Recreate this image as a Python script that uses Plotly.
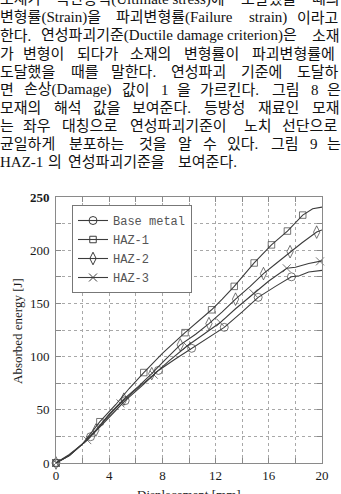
import plotly.graph_objects as go

# ---------------- data ----------------
disp_base = [0, 1, 2, 2.6, 4, 5.2, 6.5, 7.7, 9, 10.2, 11.4, 12.65, 14, 15.2, 16.5, 17.7, 18.3, 19, 20]
energy_base = [0, 8, 18, 24.7, 43, 58.6, 73, 87, 98, 107.8, 117, 127.5, 142, 155.7, 166, 175, 176, 179.5, 181]
mark_base = [0, 3, 5, 7, 9, 11, 13, 15]

disp_haz1 = [0, 1, 2, 3.3, 4.5, 5.5, 6.6, 8, 9.7, 10.7, 11.7, 12.5, 13.4, 14.9, 15.6, 16.2, 17.4, 18.55, 19.3, 20]
energy_haz1 = [0, 7, 18, 38.8, 55, 70, 85, 103, 122.5, 133, 144, 154, 166, 188, 197, 205, 218, 233, 239, 240.5]
mark_haz1 = [0, 3, 6, 8, 10, 12, 13, 15, 16, 17]

disp_haz2 = [0, 1, 2, 3.0, 4, 5.1, 6.2, 7.2, 8.2, 9.34, 10.5, 11.5, 12.5, 13.5, 14.6, 15.6, 16.5, 17.1, 17.6, 18.5, 19.6, 20]
energy_haz2 = [0, 7, 18, 31, 46, 60, 72, 84, 97, 111, 121, 131, 142, 154, 166, 178, 187, 193, 198.6, 207, 217, 219]
mark_haz2 = [0, 3, 5, 7, 9, 11, 13, 15, 18, 20]

disp_haz3 = [0, 1, 2, 2.35, 4, 4.85, 6, 7.35, 8.5, 9.85, 11, 12.35, 13.5, 14.85, 16, 17.35, 18, 19, 19.85, 20]
energy_haz3 = [0, 7, 18, 21.5, 45, 56, 69, 83, 96, 110, 120, 132, 145, 159.5, 171, 183, 184, 187.5, 189.5, 190]
mark_haz3 = [0, 3, 5, 7, 9, 11, 13, 15, 18]

series_names = ["Base metal", "HAZ-1", "HAZ-2", "HAZ-3"]
x_tick_vals = [0, 4, 8, 12, 16, 20]
x_tick_text = ["0", "4", "8", "12", "16", "20"]
y_tick_vals = [0, 50, 100, 150, 200, 250]
y_tick_text = ["0", "50", "100", "150", "200", "<b>250</b>"]

x_title = "Displacement [mm]"
y_title = "Absorbed energy [J]"

paragraph = [
    ["소재가", "극한응력(Ultimate stress)에", "도달했을", "때의"],
    ["변형률(Strain)을", "파괴변형률(Failure", "strain)", "이라고"],
    ["한다.", "연성파괴기준(Ductile damage criterion)은", "소재"],
    ["가", "변형이", "되다가", "소재의", "변형률이", "파괴변형률에"],
    ["도달했을", "때를", "말한다.", "연성파괴", "기준에", "도달하"],
    ["면", "손상(Damage)", "값이", "1", "을", "가르킨다.", "그림", "8", "은"],
    ["모재의", "해석", "값을", "보여준다.", "등방성", "재료인", "모재"],
    ["는", "좌우", "대칭으로", "연성파괴기준이", "노치", "선단으로"],
    ["균일하게", "분포하는", "것을", "알", "수", "있다.", "그림", "9", "는"],
    ["HAZ-1", "의", "연성파괴기준을", "보여준다."],
]

# ---------------- style / layout constants ----------------
W, H = 341, 494
ML, MR, MT, MB = 56, 19, 197, 31
PW, PH = W - ML - MR, H - MT - MB
LINE = "#3c3c3c"
SERIF = "Liberation Serif, Times New Roman, serif"
TEXT_PX = 15
TIMES = {"(": 333, ")": 333, ".": 250, "-": 333, "[": 333, "]": 333, " ": 250,
         "S": 556, "t": 278, "r": 333, "a": 444, "i": 278, "n": 500, "F": 556, "l": 278,
         "u": 500, "e": 444, "s": 389, "D": 722, "c": 444, "m": 778, "g": 500, "o": 500,
         "U": 722, "H": 722, "A": 722, "Z": 611}


def is_hangul(ch):
    return "\uac00" <= ch <= "\ud7a3"


def est_width(word):
    w = 0.0
    for ch in word:
        if is_hangul(ch):
            w += TEXT_PX
        else:
            w += TIMES.get(ch, 500) / 1000 * TEXT_PX
    return w


fig = go.Figure()

series = [
    (disp_base, energy_base, mark_base, "circle-open", 8),
    (disp_haz1, energy_haz1, mark_haz1, "square-open", 6.5),
    (disp_haz2, energy_haz2, mark_haz2, "diamond-tall-open", 9),
    (disp_haz3, energy_haz3, mark_haz3, "x-thin-open", 8),
]

for name, (xs, ys, marks, sym, size) in zip(series_names, series):
    sizes = [size if i in marks else 0 for i in range(len(xs))]
    fig.add_trace(go.Scatter(
        x=xs, y=ys, mode="lines+markers", showlegend=False, cliponaxis=False,
        line=dict(color=LINE, width=1.1),
        marker=dict(symbol=sym, size=sizes, color=LINE, line=dict(color=LINE, width=1)),
        hoverinfo="skip"))
    fig.add_trace(go.Scatter(
        x=[None], y=[None], mode="lines+markers", name=name,
        line=dict(color=LINE, width=1.1),
        marker=dict(symbol=sym, size=size, color=LINE, line=dict(color=LINE, width=1))))

axis_common = dict(
    showline=True, linecolor="#8a8a8a", linewidth=1, mirror="ticks",
    ticks="inside", ticklen=5, tickcolor="#8a8a8a",
    showgrid=True, gridcolor="#a8a8a8", griddash="dot", gridwidth=1,
    zeroline=False, tickfont=dict(family=SERIF, size=13, color="#1a1a1a"),
)

fig.update_xaxes(range=[0, 20], tickvals=x_tick_vals, ticktext=x_tick_text,
                 minor=dict(dtick=2, tick0=0, showgrid=True, gridcolor="#a8a8a8", griddash="dot",
                            ticks="inside", ticklen=5, tickcolor="#8a8a8a"),
                 **axis_common)
fig.update_yaxes(range=[0, 250], tickvals=y_tick_vals, ticktext=y_tick_text,
                 minor=dict(dtick=25, tick0=0, showgrid=True, gridcolor="#a8a8a8", griddash="dot",
                            ticks="inside", ticklen=5, tickcolor="#8a8a8a"),
                 ticklabelstandoff=3, **axis_common)

annotations = []


def px_x(px):
    return (px - ML) / PW


def px_y(py):
    return (H - MB - py) / PH


# paragraph text (justified lines)
RIGHT = 342
line_y0, line_step = -0.6, 18.1
for li, words in enumerate(paragraph):
    yc = line_y0 + li * line_step
    widths = [est_width(w) for w in words]
    last = li == len(paragraph) - 1
    gap = 5 if last else (RIGHT - sum(widths)) / (len(words) - 1)
    x = 0.0
    for w, wd in zip(words, widths):
        annotations.append(dict(
            text=w, x=px_x(x), y=px_y(yc), xref="paper", yref="paper",
            xanchor="left", yanchor="middle", showarrow=False, borderpad=0, borderwidth=0,
            font=dict(family="Liberation Serif, Noto Sans CJK KR", size=TEXT_PX, color="#111")))
        x += wd + gap

annotations.append(dict(text=y_title, textangle=-90, x=px_x(17), y=px_y(331), xref="paper", yref="paper",
                        xanchor="center", yanchor="middle", showarrow=False,
                        font=dict(family=SERIF, size=13, color="#1a1a1a")))
annotations.append(dict(text=x_title, x=px_x(189), y=px_y(494), xref="paper", yref="paper",
                        xanchor="center", yanchor="middle", showarrow=False,
                        font=dict(family=SERIF, size=13, color="#1a1a1a")))

fig.update_layout(
    width=W, height=H, autosize=False,
    margin=dict(l=ML, r=MR, t=MT, b=MB, pad=0),
    paper_bgcolor="white", plot_bgcolor="white",
    annotations=annotations,
    legend=dict(x=px_x(72), y=px_y(205), xanchor="left", yanchor="top",
                bgcolor="white", bordercolor="#777", borderwidth=1,
                font=dict(family="Liberation Mono, Courier New, monospace", size=12, color="#555"),
                itemwidth=30, tracegroupgap=0),
)

fig.write_html("out.html")
